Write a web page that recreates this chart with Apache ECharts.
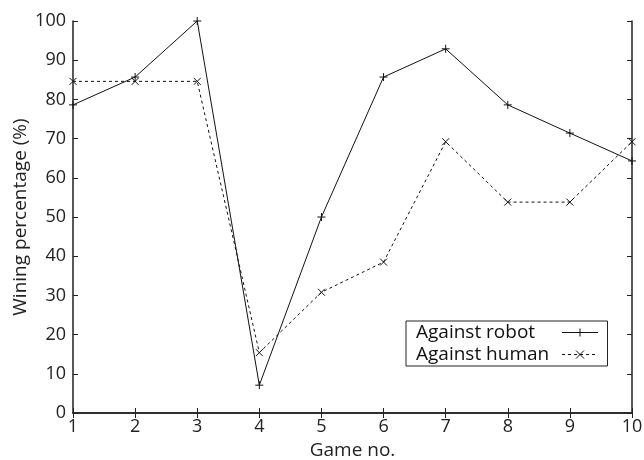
<!DOCTYPE html>
<html><head><meta charset="utf-8">
<script src="https://cdn.jsdelivr.net/npm/echarts@6/dist/echarts.min.js"></script>
<style>html,body{margin:0;padding:0;background:#fff}#c{width:644px;height:460px}</style>
</head><body><div id="c"></div>
<script>
var games = [1,2,3,4,5,6,7,8,9,10];
var robot = [78.6,85.7,100,7.1,50,85.7,92.9,78.6,71.4,64.3];
var human = [84.6,84.6,84.6,15.4,30.8,38.5,69.2,53.8,53.8,69.2];
var font = '"Open Sans", sans-serif';
var plus = 'path://M0,5L10,5M5,0L5,10';
var cross = 'path://M0,0L10,10M10,0L0,10';
var chart = echarts.init(document.getElementById('c'));
function pts(arr){ return games.map(function(g,i){return [g, arr[i]];}); }
var axisCommon = {
  axisLine:{lineStyle:{color:'#222',width:1.5}},
  axisTick:{inside:true,length:5,lineStyle:{color:'#222'}},
  splitLine:{show:false}
};
chart.setOption({
  animation:false,
  grid:{left:73,right:12,top:21,bottom:47,containLabel:false,outerBoundsMode:'none'},
  xAxis:[
    Object.assign({type:'value',min:1,max:10,interval:1,position:'bottom',
      name:'Game no.',nameLocation:'middle',nameGap:26,
      nameTextStyle:{fontFamily:font,fontSize:19,color:'#222'},
      axisLabel:{fontFamily:font,fontSize:18,color:'#222',margin:5}},axisCommon),
    Object.assign({type:'value',min:1,max:10,interval:1,position:'top',axisLabel:{show:false}},axisCommon)
  ],
  yAxis:[
    Object.assign({type:'value',min:0,max:100,interval:10,position:'left',
      name:'Wining percentage (%)',nameLocation:'middle',nameGap:43,nameMoveOverlap:false,
      nameTextStyle:{fontFamily:font,fontSize:19,color:'#222'},
      axisLabel:{fontFamily:font,fontSize:18,color:'#222',margin:7}},axisCommon),
    Object.assign({type:'value',min:0,max:100,interval:10,position:'right',axisLabel:{show:false}},axisCommon)
  ],
  legend:{
    left:406,top:321,orient:'vertical',align:'right',
    borderColor:'#222',borderWidth:1,borderRadius:0,padding:[2,9,2,10],
    itemGap:3,itemWidth:36,itemHeight:10,
    formatter:function(n){return '{a|'+n+'}';},
    textStyle:{fontFamily:font,fontSize:19,color:'#111',
      rich:{a:{width:141,align:'left',fontFamily:font,fontSize:19,color:'#111',lineHeight:22}}},
    lineStyle:{width:1},
    itemStyle:{borderWidth:1},
    data:['Against robot','Against human']
  },
  series:[
    {name:'Against robot',type:'line',data:pts(robot),symbol:plus,symbolSize:8,
      lineStyle:{color:'#111',width:1},itemStyle:{color:'transparent',borderColor:'#111',borderWidth:1}},
    {name:'Against human',type:'line',data:pts(human),symbol:cross,symbolSize:7,
      lineStyle:{color:'#111',width:1,type:[3,3]},itemStyle:{color:'transparent',borderColor:'#111',borderWidth:1}}
  ]
});
</script></body></html>
